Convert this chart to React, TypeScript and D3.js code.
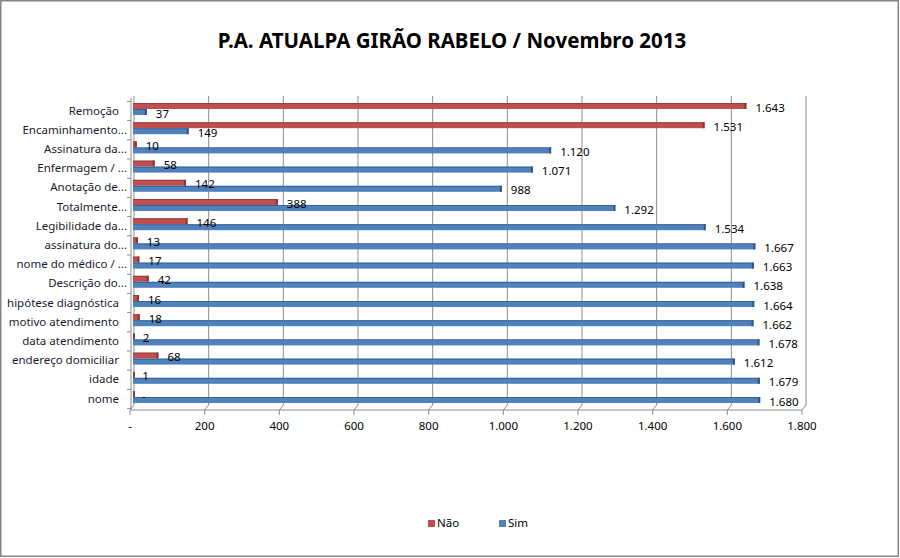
import React from "react";
import * as d3 from "d3";

const categories = [
  "Remoção",
  "Encaminhamento...",
  "Assinatura da...",
  "Enfermagem / ...",
  "Anotação de...",
  "Totalmente...",
  "Legibilidade da...",
  "assinatura do...",
  "nome do médico / ...",
  "Descrição do...",
  "hipótese diagnóstica",
  "motivo atendimento",
  "data atendimento",
  "endereço domiciliar",
  "idade",
  "nome",
];
const naoValues = [1643, 1531, 10, 58, 142, 388, 146, 13, 17, 42, 16, 18, 2, 68, 1, 0];
const simValues = [37, 149, 1120, 1071, 988, 1292, 1534, 1667, 1663, 1638, 1664, 1662, 1678, 1612, 1679, 1680];
const xTicks = [0, 200, 400, 600, 800, 1000, 1200, 1400, 1600, 1800];
const seriesNames = ["Não", "Sim"];
const titleText = "P.A. ATUALPA GIRÃO RABELO / Novembro 2013";

const RED = "#C0504D";
const RED_DARK = "#8C3836";
const BLUE = "#4F81BD";
const BLUE_DARK = "#2E5886";
const FONT = "'Noto Sans', 'DejaVu Sans', sans-serif";

const locale = d3.formatLocale({ decimal: ",", thousands: ".", grouping: [3], currency: ["R$", ""] });
const fmtNum = locale.format(",d");
const fmt = (v: number) => (v === 0 ? "-" : fmtNum(v));

export default function App() {
  const W = 900;
  const H = 558;
  const backTop = 96;
  const backBottom = 405;
  const frontBottom = 410;

  const xFront = d3.scaleLinear().domain([0, 1800]).range([130, 802]);
  const xBack = d3.scaleLinear().domain([0, 1800]).range([134, 806]);
  const y = d3.scaleBand<string>().domain(categories).range([101.4, 408.6]).padding(0);
  const bw = y.bandwidth();
  const barH = 6;

  return (
    <svg width={W} height={H} style={{ position: "absolute", left: 0, top: 0, background: "#fff" }}>
      <rect x={0.75} y={0.75} width={897.5} height={555.5} fill="#fff" stroke="#868686" strokeWidth={1.5} />
      <text x={452} y={48} textAnchor="middle" fontFamily={FONT} fontWeight="bold" fontSize={20.5} fill="#000">
        {titleText}
      </text>

      {/* gridlines on back wall + floor */}
      {xTicks.map((t) => (
        <g key={t}>
          <line x1={xBack(t)} x2={xBack(t)} y1={backTop} y2={backBottom} stroke="#8c8c8c" strokeWidth={1} />
          <line x1={xBack(t)} x2={xFront(t)} y1={backBottom} y2={frontBottom} stroke="#8c8c8c" strokeWidth={1} />
          <line x1={xFront(t)} x2={xFront(t)} y1={frontBottom} y2={frontBottom + 5} stroke="#8c8c8c" strokeWidth={1} />
          <text x={xFront(t)} y={427} textAnchor="middle" dominantBaseline="middle" fontFamily={FONT} fontSize={11.5} fill="#000">
            {fmt(t)}
          </text>
        </g>
      ))}
      <line x1={xFront(0)} x2={xFront(1800)} y1={frontBottom} y2={frontBottom} stroke="#8c8c8c" />
      {/* left axis */}
      <line x1={xFront(0) + 1} x2={xFront(0) + 1} y1={backTop + 2} y2={frontBottom} stroke="#8c8c8c" />
      {categories.map((c, i) => (
        <line key={"tk" + i} x1={xFront(0) - 3} x2={xFront(0) + 1} y1={(y(c) as number)} y2={(y(c) as number)} stroke="#8c8c8c" />
      ))}
      <line x1={xFront(0) - 3} x2={xFront(0) + 1} y1={408.6} y2={408.6} stroke="#8c8c8c" />

      {/* bars */}
      {categories.map((c, i) => {
        const cy = (y(c) as number) + bw / 2;
        const redY = cy - 8;
        const blueY = cy - 2;
        const x0 = xBack(0) - 1;
        const xr = xBack(naoValues[i]) - 1;
        const xb = xBack(simValues[i]) - 1;
        return (
          <g key={c}>
            <rect x={x0} y={redY} width={Math.max(xr - x0, 0.5)} height={barH} fill={RED} />
            <rect x={x0} y={redY} width={Math.max(xr - x0, 0.5)} height={1} fill={RED_DARK} opacity={0.7} />
            <rect x={Math.max(xr - 2, x0)} y={redY} width={2} height={barH} fill={RED_DARK} />
            <rect x={x0} y={blueY} width={Math.max(xb - x0, 0.5)} height={barH} fill={BLUE} />
            <rect x={x0} y={blueY} width={Math.max(xb - x0, 0.5)} height={1} fill={BLUE_DARK} opacity={0.7} />
            <rect x={Math.max(xb - 2, x0)} y={blueY} width={2} height={barH} fill={BLUE_DARK} />
            <text x={xr + 9} y={redY + barH / 2 + 2.5} dominantBaseline="middle" fontFamily={FONT} fontSize={11.5} fill="#000">
              {fmt(naoValues[i])}
            </text>
            <text x={xb + 9} y={blueY + barH / 2 + 2.5} dominantBaseline="middle" fontFamily={FONT} fontSize={11.5} fill="#000">
              {fmt(simValues[i])}
            </text>
            <text
              x={c.endsWith("...") ? 127 : 119}
              y={cy + 0.5}
              textAnchor="end"
              dominantBaseline="middle"
              fontFamily={FONT}
              fontSize={11.5}
              fill="#1a1a2e"
            >
              {c}
            </text>
          </g>
        );
      })}

      {/* legend */}
      <rect x={428} y={520} width={7} height={7} fill={RED} />
      <text x={437} y={524} dominantBaseline="middle" fontFamily={FONT} fontSize={11.5} fill="#000">
        {seriesNames[0]}
      </text>
      <rect x={499} y={520} width={7} height={7} fill={BLUE} />
      <text x={508} y={524} dominantBaseline="middle" fontFamily={FONT} fontSize={11.5} fill="#000">
        {seriesNames[1]}
      </text>
    </svg>
  );
}
